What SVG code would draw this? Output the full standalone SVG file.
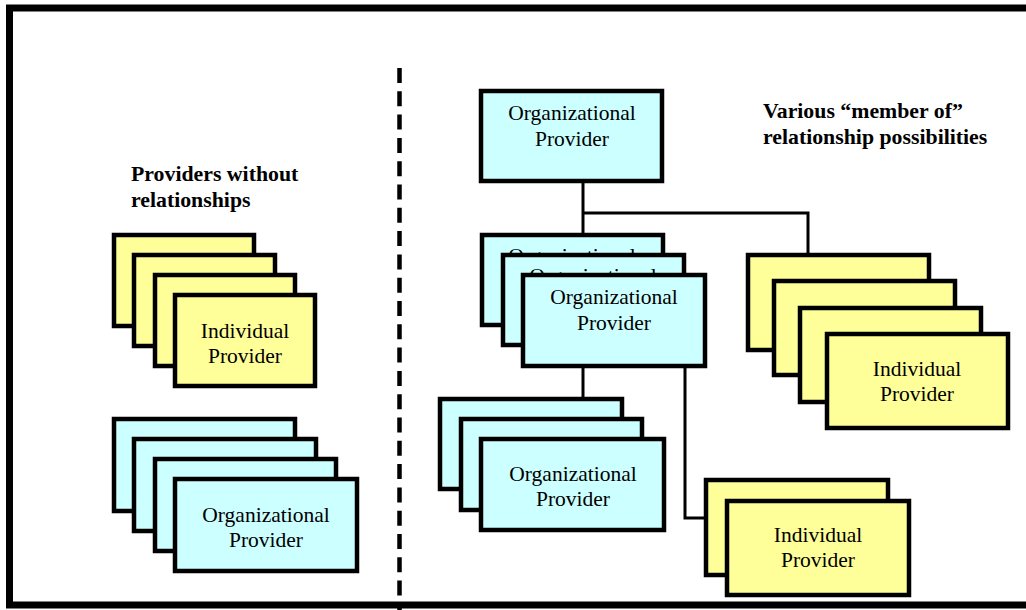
<svg xmlns="http://www.w3.org/2000/svg" width="1026" height="610" viewBox="0 0 1026 610">
<style>
.org{fill:#CCFFFF;stroke:#000;stroke-width:4.5}
.ind{fill:#FFFF99;stroke:#000;stroke-width:4.5}
.t{font-family:"Liberation Serif","Times New Roman",serif;font-size:21.5px;fill:#000;text-anchor:middle}
.h{font-family:"Liberation Serif","Times New Roman",serif;font-size:21.8px;font-weight:bold;fill:#000}
.c{fill:none;stroke:#000;stroke-width:3}
</style>
<rect x="9.5" y="8" width="1030" height="597" fill="#fff" stroke="#000" stroke-width="7"/>
<line x1="399.5" y1="68" x2="399.5" y2="610" stroke="#000" stroke-width="4.5" stroke-dasharray="15 8.3"/>
<text class="h" x="131" y="181">Providers without</text>
<text class="h" x="131" y="207">relationships</text>
<text class="h" x="763" y="118">Various “member of”</text>
<text class="h" x="763" y="144">relationship possibilities</text>
<g id="connectors">
<path class="c" d="M583 182 V235"/>
<path class="c" d="M583 213 H808 V255"/>
<path class="c" d="M583 368 V399"/>
<path class="c" d="M685 368 V518 H706"/>
</g>
<g id="left-individual-stack">
<rect class="ind" x="114" y="235" width="140" height="91"/>
<rect class="ind" x="134" y="255" width="141" height="91"/>
<rect class="ind" x="155" y="275" width="140" height="91"/>
<rect class="ind" x="175" y="295" width="140" height="91"/>
<text class="t" x="245" y="338">Individual</text>
<text class="t" x="245" y="363">Provider</text>
</g>
<g id="left-org-stack">
<rect class="org" x="114" y="419" width="181" height="92"/>
<rect class="org" x="134" y="439" width="182" height="92"/>
<rect class="org" x="155" y="459" width="181" height="92"/>
<rect class="org" x="175" y="479" width="182" height="92"/>
<text class="t" x="266" y="522">Organizational</text>
<text class="t" x="266" y="547">Provider</text>
</g>
<g id="top-org">
<rect class="org" x="481" y="91" width="181" height="90"/>
<text class="t" x="572" y="120">Organizational</text>
<text class="t" x="572" y="146">Provider</text>
</g>
<g id="middle-org-stack">
<rect class="org" x="482" y="235" width="181" height="90"/>
<text class="t" x="572" y="263">Organizational</text>
<rect class="org" x="503" y="255" width="181" height="90"/>
<text class="t" x="593" y="283">Organizational</text>
<rect class="org" x="523" y="275" width="182" height="91"/>
<text class="t" x="614" y="304">Organizational</text>
<text class="t" x="614" y="330">Provider</text>
</g>
<g id="right-individual-stack">
<rect class="ind" x="748" y="255" width="181" height="95"/>
<rect class="ind" x="774" y="281" width="181" height="94"/>
<rect class="ind" x="800" y="308" width="181" height="94"/>
<rect class="ind" x="827" y="334" width="181" height="94"/>
<text class="t" x="917" y="376">Individual</text>
<text class="t" x="917" y="401">Provider</text>
</g>
<g id="lower-org-stack">
<rect class="org" x="440" y="399" width="182" height="90"/>
<rect class="org" x="461" y="419" width="181" height="91"/>
<rect class="org" x="481" y="439" width="183" height="91"/>
<text class="t" x="573" y="481">Organizational</text>
<text class="t" x="573" y="506">Provider</text>
</g>
<g id="bottom-individual-stack">
<rect class="ind" x="706" y="480" width="182" height="95"/>
<rect class="ind" x="727" y="501" width="182" height="94"/>
<text class="t" x="818" y="542">Individual</text>
<text class="t" x="818" y="567">Provider</text>
</g>
</svg>
